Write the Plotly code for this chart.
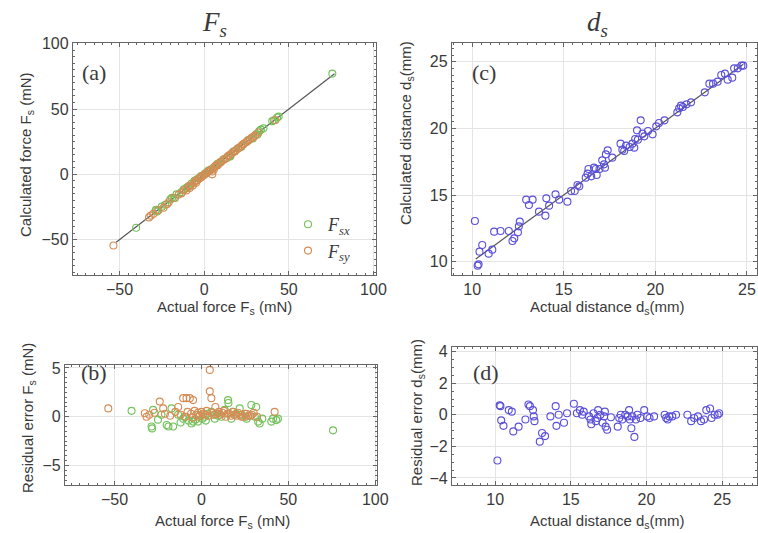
import plotly.graph_objects as go

# ---------------- data ----------------
# Force: actual values and residual errors (actual - calculated), mN
fsx_actual = [-40.2, -28.7, -28.4, -27.8, -25.0, -23.0, -20.0, -19.0, -17.2, -16.3, -13.4, -12.0,
              -10.5, -9.6, -7.5, -5.7, -4.8, -3.5, -2.0, -1.9, 0.5, 1.9, 2.5, 3.5, 5.7, 7.7, 8.0,
              9.5, 11.5, 13.4, 15.3, 15.5, 17.2, 18.2, 20.0, 22.0, 23.0, 25.5, 26.0, 28.7, 30.7,
              31.5, 32.6, 33.5, 35.0, 40.2, 41.2, 43.1, 44.0, 75.7]
fsx_resid = [0.6, -1.0, -1.2, 0.7, -0.3, 0.2, -0.85, -1.0, 0.85, -1.0, 0.2, -0.6,
             -0.2, 0.0, -0.4, -0.7, -0.5, -0.3, -0.5, 0.2, -0.2, 0.0, -0.4, 0.3, 0.5, -0.2, 0.2,
             0.1, 0.0, 0.7, 1.7, 1.4, -0.2, 0.5, 0.3, 0.85, 0.2, 0.0, -0.2, 1.2, 0.0,
             1.0, -0.5, -0.7, -0.2, -0.5, -0.2, -0.35, -0.2, -1.4]

fsy_actual = [-53.6, -32.6, -31.6, -30.0, -27.0, -24.0, -22.0, -21.0, -18.0, -15.0, -13.4, -12.0,
              -10.5, -9.0, -8.6, -8.0, -6.7, -6.0, -5.0, -4.8, -4.0, -3.0, -2.0, -1.5, -1.0, 0.0,
              1.0, 2.0, 3.0, 4.0, 4.8, 4.8, 5.7, 6.5, 7.0, 8.0, 9.0, 10.0, 11.0, 12.0, 13.0,
              14.0, 15.0, 16.0, 17.0, 18.0, 19.0, 20.0, 21.0, 22.0, 23.0, 24.0, 25.0, 26.0,
              27.0, 28.0, 29.0, 30.0, 32.0, 42.1]
fsy_resid = [0.85, 0.35, 0.0, 0.2, 0.4, 1.55, 0.85, 0.3, 0.1, 0.5, 1.0, 0.2,
             1.9, 0.0, 1.9, 0.5, 1.9, 0.3, -0.1, 1.7, 0.6, 0.2, 0.4, 0.0, 0.1, 0.5,
             0.3, 0.2, 0.6, 0.1, 4.8, 2.6, 1.9, 0.4, 0.2, 1.0, 0.3, 0.5, 0.2, 0.4, 0.6,
             0.0, 0.3, 0.3, 0.1, 0.5, 0.2, 0.1, 0.4, 0.2, 0.0, 0.0, 0.3, 0.3,
             0.1, 0.1, 0.2, 0.4, 0.0, 0.5]

# Distance: actual values and residual errors (actual - calculated), mm
ds_actual = [10.15, 10.3, 10.35, 10.4, 10.55, 10.9, 11.1, 11.2, 11.55, 12.0, 12.2, 12.3, 12.5, 12.55,
             12.6, 12.95, 13.1, 13.3, 13.65, 14.0, 14.05, 14.2, 14.55, 14.75, 15.2, 15.4, 15.6, 15.75,
             15.85, 16.2, 16.3, 16.35, 16.5, 16.65, 16.75, 16.8, 16.95, 17.1, 17.2, 17.25, 17.3, 17.4,
             17.65, 18.1, 18.2, 18.3, 18.4, 18.6, 18.75, 18.85, 18.9, 19.0, 19.05, 19.2, 19.3, 19.4,
             19.6, 19.85, 20.05, 20.2, 20.5, 21.2, 21.3, 21.4, 21.5, 21.7, 21.95, 22.7, 22.95, 23.15,
             23.4, 23.6, 23.8, 23.95, 24.2, 24.3, 24.5, 24.7, 24.8]
ds_resid = [-2.9, 0.6, 0.55, -0.35, -0.7, 0.3, 0.2, -1.05, -0.75, -0.3, 0.65, 0.55, 0.3, -0.1,
            -0.4, -1.7, -1.15, -1.35, -0.1, 0.55, -0.7, 0.0, -0.5, 0.1, 0.7, 0.1, 0.3, 0.0,
            0.2, -0.1, -0.3, -0.6, 0.1, -0.4, -0.2, 0.3, 0.0, -0.5, -0.1, 0.2, -0.75, -0.95,
            -0.15, -0.75, -0.2, 0.0, -0.3, 0.0, -0.1, 0.3, -0.3, -0.85, -0.1, -1.4, -0.3, 0.0,
            -0.2, 0.3, -0.1, -0.2, -0.1, 0.0, -0.2, -0.3, -0.1, -0.1, 0.0, 0.0, -0.4, -0.2,
            -0.1, -0.4, -0.3, 0.3, 0.4, -0.2, 0.0, 0.0, 0.1]

fs_fit = [-52, 77]
ds_fit = [10.2, 24.8]

fsx_calc = [a - r for a, r in zip(fsx_actual, fsx_resid)]
fsy_calc = [a - r for a, r in zip(fsy_actual, fsy_resid)]
ds_calc = [a - r for a, r in zip(ds_actual, ds_resid)]

GREEN = "#72c25a"
ORANGE = "#d48c55"
BLUE = "#5a4fd8"
TXT = "#3a3a3a"
SANS = "Liberation Sans, Arial, sans-serif"
SERIF = "Liberation Serif, Times New Roman, serif"

W, H = 758, 533


def mk(color):
    return dict(symbol="circle-open", size=7, color=color, line=dict(width=1.1, color=color))


fig = go.Figure()

# (a)
fig.add_trace(go.Scatter(x=fs_fit, y=fs_fit, mode="lines", line=dict(color="#555555", width=1.2),
                         showlegend=False, xaxis="x", yaxis="y"))
fig.add_trace(go.Scatter(x=fsx_actual, y=fsx_calc, mode="markers", marker=mk(GREEN),
                         name="<i>F</i><sub><i>sx</i></sub>", xaxis="x", yaxis="y"))
fig.add_trace(go.Scatter(x=fsy_actual, y=fsy_calc, mode="markers", marker=mk(ORANGE),
                         name="<i>F</i><sub><i>sy</i></sub>", xaxis="x", yaxis="y"))
# (b)
fig.add_trace(go.Scatter(x=fsx_actual, y=fsx_resid, mode="markers", marker=mk(GREEN),
                         showlegend=False, xaxis="x2", yaxis="y2"))
fig.add_trace(go.Scatter(x=fsy_actual, y=fsy_resid, mode="markers", marker=mk(ORANGE),
                         showlegend=False, xaxis="x2", yaxis="y2"))
# (c)
fig.add_trace(go.Scatter(x=ds_fit, y=ds_fit, mode="lines", line=dict(color="#555555", width=1.2),
                         showlegend=False, xaxis="x3", yaxis="y3"))
fig.add_trace(go.Scatter(x=ds_actual, y=ds_calc, mode="markers", marker=mk(BLUE),
                         showlegend=False, xaxis="x3", yaxis="y3"))
# (d)
fig.add_trace(go.Scatter(x=ds_actual, y=ds_resid, mode="markers", marker=mk(BLUE),
                         showlegend=False, xaxis="x4", yaxis="y4"))


def ax(domain, rng, tickvals, minor_dtick, anchor):
    return dict(domain=domain, range=rng, tickvals=tickvals, anchor=anchor,
                showline=True, linecolor="#666666", linewidth=1.3, mirror="allticks",
                ticks="inside", ticklen=4, tickcolor="#666666", tickwidth=1,
                minor=dict(ticks="inside", ticklen=2, dtick=minor_dtick, tickcolor="#666666",
                           showgrid=False),
                showgrid=True, gridcolor="#e4e4e4", gridwidth=1, zeroline=False,
                automargin=False,
                tickfont=dict(family=SANS, size=16, color=TXT))


xa = (73 / W, 376 / W)
xb = (65 / W, 377 / W)
xc = (452 / W, 757 / W)
ytop = (1 - 275 / H, 1 - 43 / H)
yb = (1 - 485 / H, 1 - 365 / H)
yd = (1 - 485 / H, 1 - 347 / H)

fig.update_layout(
    width=W, height=H, margin=dict(l=0, r=0, t=0, b=0, pad=0, autoexpand=False),
    paper_bgcolor="white", plot_bgcolor="white",
    xaxis=ax(xa, [-77.5, 101.5], [-50, 0, 50, 100], 5, "y"),
    yaxis=ax(ytop, [-77, 100.5], [-50, 0, 50, 100], 5, "x"),
    xaxis2=ax(xb, [-78.5, 101], [-50, 0, 50, 100], 5, "y2"),
    yaxis2=ax(yb, [-7, 5.3], [-5, 0, 5], 0.5, "x2"),
    xaxis3=ax(xc, [8.9, 25.55], [10, 15, 20, 25], 0.5, "y3"),
    yaxis3=ax(ytop, [9.0, 26.4], [10, 15, 20, 25], 0.5, "x3"),
    xaxis4=ax(xc, [7.15, 27.3], [10, 15, 20, 25], 0.5, "y4"),
    yaxis4=ax(yd, [-4.45, 4.3], [-4, -2, 0, 2, 4], 0.5, "x4"),
    legend=dict(x=288 / W, y=1 - 206 / H, xanchor="left", yanchor="top",
                bgcolor="rgba(0,0,0,0)", font=dict(family=SERIF, size=18, color=TXT),
                itemwidth=30, tracegroupgap=0),
)

ann = []


def text(x, y, s, size=15, family=SANS, angle=0):
    ann.append(dict(x=x / W, y=1 - y / H, xref="paper", yref="paper", text=s, showarrow=False,
                    textangle=angle, font=dict(family=family, size=size, color=TXT),
                    xanchor="center", yanchor="middle"))


# column titles
text(214, 24, "<i>F<sub>s</sub></i>", size=27, family=SERIF)
text(597, 24, "<i>d<sub>s</sub></i>", size=27, family=SERIF)
# panel labels
text(94, 72, "(a)", size=22, family=SERIF)
text(94, 372, "(b)", size=22, family=SERIF)
text(484, 72, "(c)", size=22, family=SERIF)
text(486, 372, "(d)", size=22, family=SERIF)
# axis titles
text(224, 307, "Actual force F<sub>s</sub> (mN)")
text(222, 521, "Actual force F<sub>s</sub> (mN)")
text(607, 307, "Actual distance d<sub>s</sub>(mm)")
text(607, 521, "Actual distance d<sub>s</sub>(mm)")
text(26, 155, "Calculated force F<sub>s</sub> (mN)", angle=-90)
text(28, 418, "Residual error F<sub>s</sub> (mN)", angle=-90)
text(407, 133, "Calculated distance d<sub>s</sub>(mm)", angle=-90)
text(417, 413, "Residual error d<sub>s</sub>(mm)", angle=-90)

fig.update_layout(annotations=ann)

fig.write_html("out.html", config={"displayModeBar": False},
               post_script="document.body.style.margin='0';")
